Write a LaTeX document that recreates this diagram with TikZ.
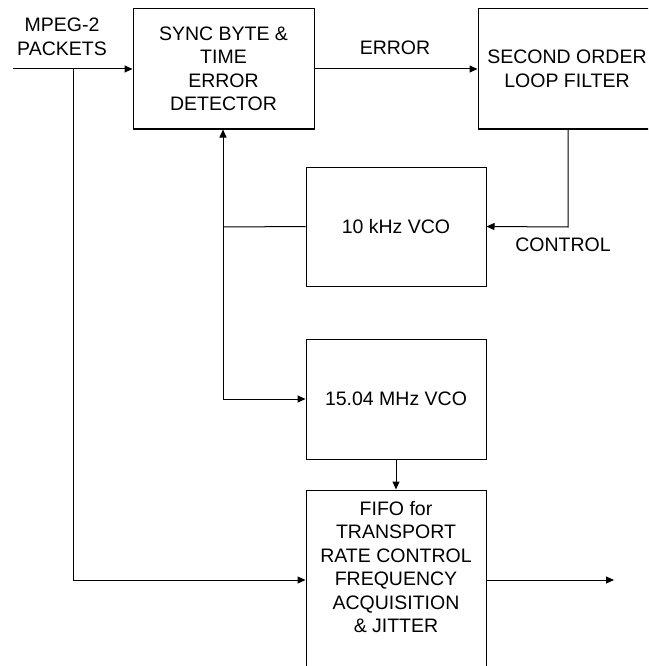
\documentclass[tikz,border=0pt]{standalone}
\usepackage{fontspec}
\setmainfont{Liberation Sans}
\usetikzlibrary{arrows.meta}
\begin{document}
\begin{tikzpicture}[x=1pt,y=-1pt,
  every node/.style={font=\fontsize{19.5}{23.5}\selectfont, inner sep=0pt, align=center},
  blk/.style={draw, line width=1pt, minimum width=180pt, minimum height=120pt},
  conn/.style={line width=1pt},
  arr/.style={conn, -{Triangle[length=8pt,width=7pt]}}]
\useasboundingbox (0,0) rectangle (648,666);
\clip (0,0) rectangle (648,666);
\fill[white] (0,0) rectangle (648,666);
% blocks
\node[blk, minimum width=181pt] (sync) at (223.5,69) {SYNC BYTE \&\\TIME\\ERROR\\DETECTOR};
\node[blk, minimum width=178pt] (filt) at (567,69) {SECOND ORDER\\LOOP FILTER};
\node[blk, minimum height=119pt] (vcoa) at (396,226.5) {10 kHz VCO};
\node[blk] (vcob) at (396,399) {15.04 MHz VCO};
\node[blk, minimum height=200pt] (fifo) at (396,590) {};
\node (fifotxt) at (396,567) {FIFO for\\TRANSPORT\\RATE CONTROL\\FREQUENCY\\ACQUISITION\\\& JITTER};
% labels
\node (mpeg) at (62,37) {MPEG-2\\PACKETS};
\node (err) at (395,48) {ERROR};
\node (ctl) at (563,245) {CONTROL};
% coordinates
\coordinate (in) at (13,69);
\coordinate (br) at (73,69);
\coordinate (brd) at (73,580);
\coordinate (out) at (614,580);
\coordinate (fb) at (568,227);
\coordinate (jn) at (223,227);
\coordinate (jb) at (223,399);
% connectors
\draw[arr] (in) -- (sync.west);
\draw[conn] (br) -- (brd);
\draw[arr] (brd) -- (brd -| fifo.west);
\draw[arr] (brd -| fifo.east) -- (out);
\draw[arr] (sync.east) -- (filt.west);
\draw[arr] (fb |- filt.south) -- (fb) -- (vcoa.east);
\draw[conn] (vcoa.west) -- (jn);
\draw[arr] (jb) -- (jb |- sync.south);
\draw[arr] (jb) -- (vcob.west);
\draw[arr] (vcob.south) -- (fifo.north);
\end{tikzpicture}
\end{document}
